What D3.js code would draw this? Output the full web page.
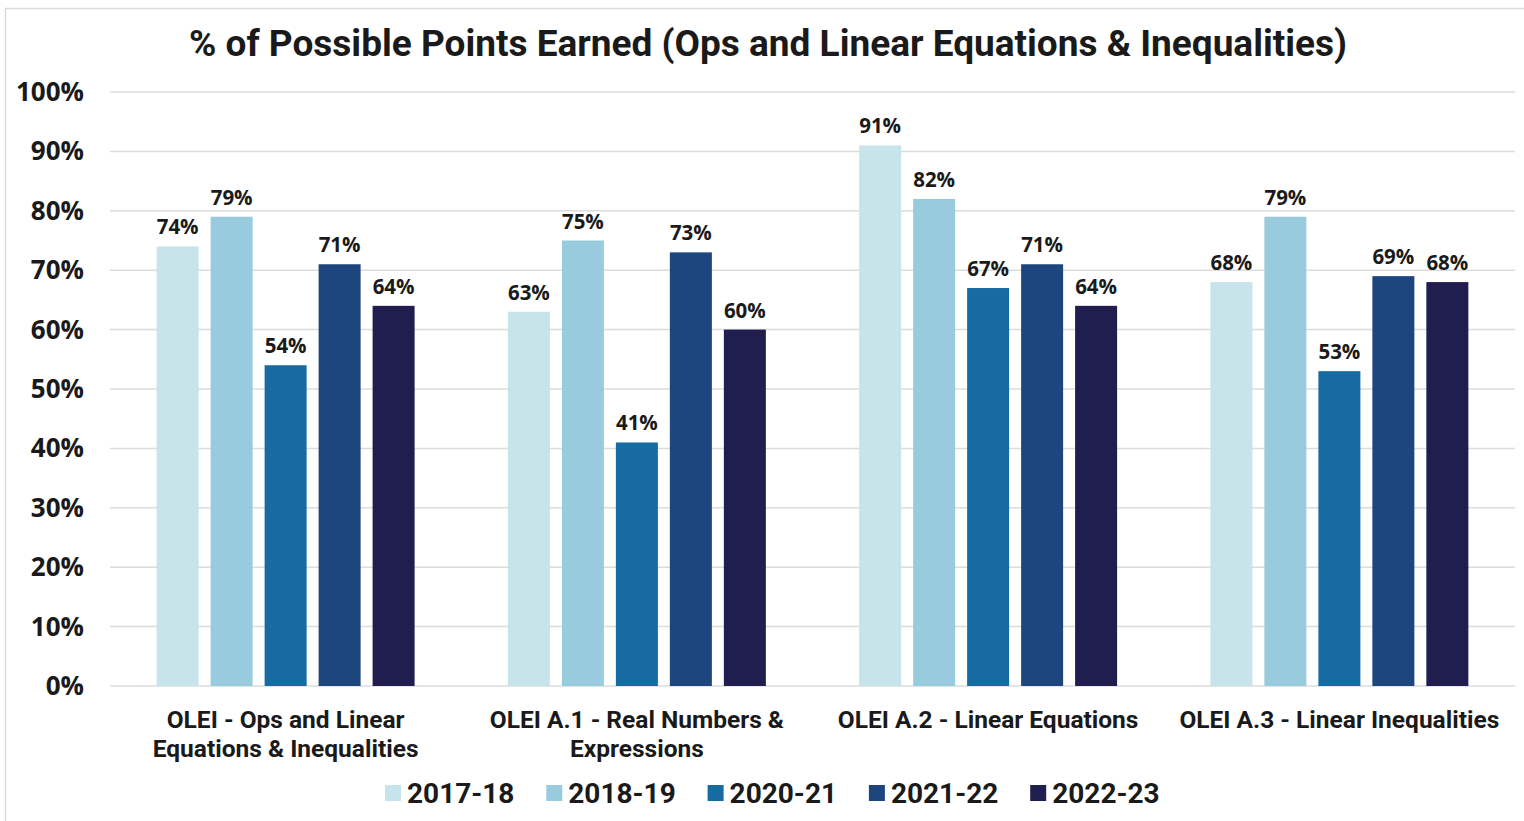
<!DOCTYPE html>
<html>
<head>
<meta charset="utf-8">
<script src="https://cdn.jsdelivr.net/npm/d3@7"></script>
<style>
  body { margin: 0; background: #fff; }
  svg text { fill: #1a1a1a; }
</style>
</head>
<body>
<div id="chart"></div>
<script>
var w = 1524,
    h = 821;

// data
var categories = [
    ["OLEI - Ops and Linear", "Equations & Inequalities"],
    ["OLEI A.1 - Real Numbers &", "Expressions"],
    ["OLEI A.2 - Linear Equations"],
    ["OLEI A.3 - Linear Inequalities"]
];
var years = ["2017-18", "2018-19", "2020-21", "2021-22", "2022-23"];
var v2017 = [74, 63, 91, 68];
var v2018 = [79, 75, 82, 79];
var v2020 = [54, 41, 67, 53];
var v2021 = [71, 73, 71, 69];
var v2022 = [64, 60, 64, 68];
var yTicks = [0, 10, 20, 30, 40, 50, 60, 70, 80, 90, 100];

var series = [v2017, v2018, v2020, v2021, v2022];

var color = d3.scaleOrdinal()
    .domain(years)
    .range(['#c8e4eb', '#99cbdf', '#176ba3', '#1c467d', '#1f1e4f']);

var svg = d3.select("#chart").append("svg")
    .attr("width", w)
    .attr("height", h);

// frame
svg.append("path")
    .attr("d", "M5.5," + h + "V8.5H" + w)
    .attr("fill", "none")
    .attr("stroke", "#d9d9d9")
    .attr("stroke-width", 1.5);

svg.append("text")
    .attr("x", 768)
    .attr("y", 56)
    .attr("text-anchor", "middle")
    .style("font-family", "Roboto")
    .style("font-weight", 700)
    .style("font-size", "37px")
    .text("% of Possible Points Earned (Ops and Linear Equations & Inequalities)");

var x0 = d3.scaleBand()
    .domain(d3.range(categories.length))
    .range([110, 1515]);

var x1 = d3.scaleBand()
    .domain(years)
    .range([0, x0.bandwidth()])
    .paddingInner(0.222)
    .paddingOuter(0.864);

var y = d3.scaleLinear()
    .domain([0, 100])
    .range([686, 92]);

// grid
svg.append("g")
    .selectAll("line")
    .data(yTicks)
    .enter().append("line")
    .attr("x1", 110)
    .attr("x2", 1515)
    .attr("y1", function(d) { return y(d); })
    .attr("y2", function(d) { return y(d); })
    .attr("stroke", "#dcdcdc")
    .attr("stroke-width", 1.5);

svg.append("g")
    .selectAll("text")
    .data(yTicks)
    .enter().append("text")
    .attr("x", 84)
    .attr("y", function(d) { return y(d) + 9; })
    .attr("text-anchor", "end")
    .style("font-family", "Open Sans")
    .style("font-weight", 700)
    .style("font-size", "26px")
    .text(function(d) { return d + "%"; });

// bars
var groups = svg.append("g")
    .selectAll("g")
    .data(categories)
    .enter().append("g")
    .attr("transform", function(d, i) { return "translate(" + x0(i) + ",0)"; });

var bars = groups.selectAll("g.bar")
    .data(function(d, i) {
        return years.map(function(yr, j) { return { year: yr, value: series[j][i] }; });
    })
    .enter().append("g")
    .attr("class", "bar");

bars.append("rect")
    .attr("x", function(d) { return x1(d.year); })
    .attr("width", x1.bandwidth())
    .attr("y", function(d) { return y(d.value); })
    .attr("height", function(d) { return y(0) - y(d.value); })
    .attr("fill", function(d) { return color(d.year); });

bars.append("text")
    .attr("x", function(d) { return x1(d.year) + x1.bandwidth() / 2; })
    .attr("y", function(d) { return y(d.value) - 12; })
    .attr("text-anchor", "middle")
    .style("font-family", "Open Sans")
    .style("font-weight", 700)
    .style("font-size", "20.5px")
    .text(function(d) { return d.value + "%"; });

// category labels
groups.append("text")
    .attr("text-anchor", "middle")
    .style("font-family", "Roboto")
    .style("font-weight", 700)
    .style("font-size", "24.5px")
    .selectAll("tspan")
    .data(function(d) { return d; })
    .enter().append("tspan")
    .attr("x", x0.bandwidth() / 2)
    .attr("y", function(d, i) { return 728 + i * 29; })
    .text(function(d) { return d; });

// legend
var legend = svg.append("g")
    .selectAll("g")
    .data(years)
    .enter().append("g")
    .attr("transform", function(d, i) { return "translate(" + (385 + i * 161.3) + ",793)"; });

legend.append("rect")
    .attr("x", 0)
    .attr("y", -8)
    .attr("width", 16)
    .attr("height", 16)
    .attr("fill", function(d) { return color(d); });

legend.append("text")
    .attr("x", 22)
    .attr("y", 10)
    .style("font-family", "Roboto")
    .style("font-weight", 700)
    .style("font-size", "28px")
    .text(function(d) { return d; });
</script>
</body>
</html>
